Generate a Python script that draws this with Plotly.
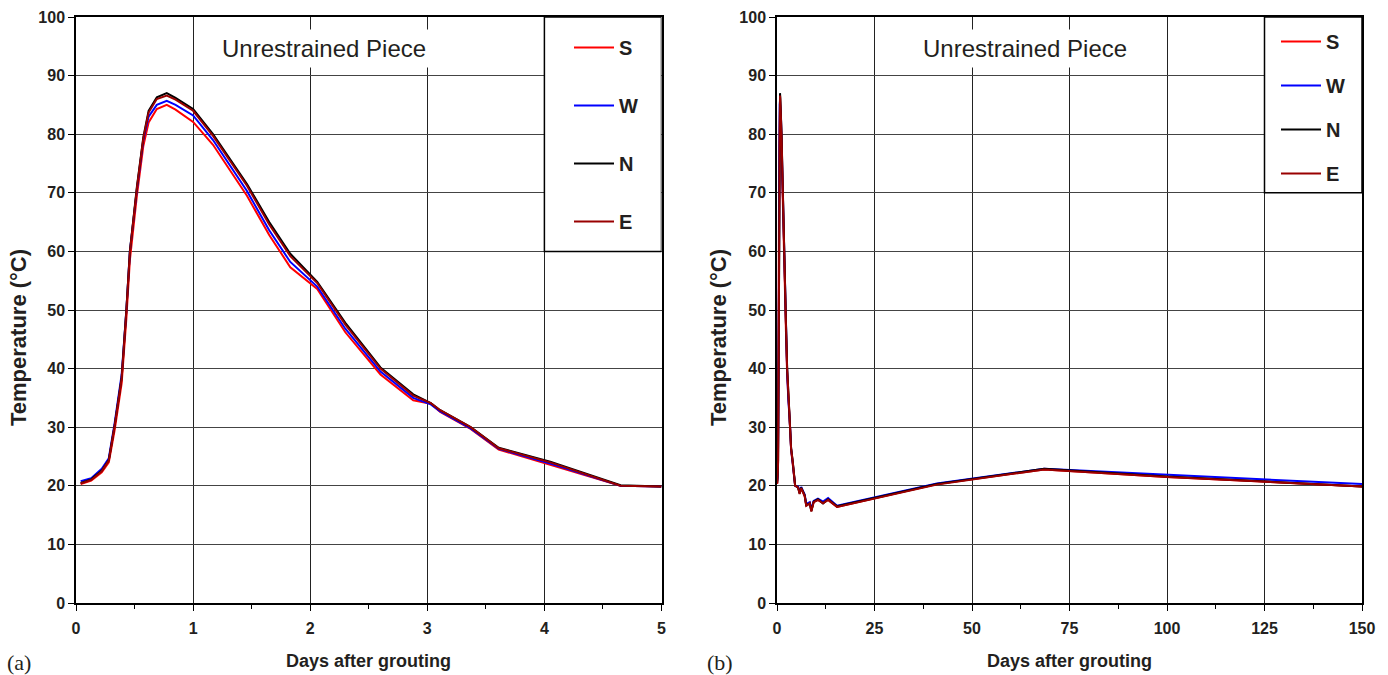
import plotly.graph_objects as go

# ---------------- data ----------------
days_a = [0.04, 0.13, 0.22, 0.28, 0.33, 0.39, 0.43, 0.46, 0.52, 0.575, 0.62, 0.69, 0.775, 0.85, 1.0,
          1.17, 1.46, 1.65, 1.83, 2.06, 2.3, 2.6, 2.88, 3.03, 3.11, 3.37, 3.61, 4.05, 4.65, 5.0]
S_a = [20.3, 20.9, 22.3, 24.0, 29.5, 37.5, 48.5, 58.5, 69.5, 78.0, 82.0, 84.3, 85.0, 84.2, 82.1,
       78.2, 69.5, 62.8, 57.3, 53.6, 46.2, 39.0, 34.6, 34.0, 32.6, 29.7, 26.2, 23.6, 20.0, 19.9]
W_a = [20.8, 21.3, 22.9, 24.7, 30.7, 39.0, 50.0, 60.0, 70.5, 79.0, 83.0, 85.0, 85.7, 85.0, 83.2,
       79.0, 70.3, 63.6, 58.2, 54.0, 46.8, 39.5, 35.0, 33.9, 32.7, 29.8, 26.3, 23.8, 20.0, 19.9]
N_a = [20.5, 21.1, 22.6, 24.4, 30.3, 38.5, 50.0, 60.0, 71.0, 79.5, 84.0, 86.3, 87.0, 86.2, 84.3,
       80.0, 71.5, 65.0, 59.6, 54.8, 47.8, 40.2, 35.6, 34.1, 32.9, 30.0, 26.5, 24.1, 20.1, 19.9]
E_a = [20.4, 21.0, 22.5, 24.3, 30.2, 38.3, 49.8, 59.8, 70.8, 79.3, 83.7, 86.0, 86.6, 85.9, 84.0,
       79.7, 71.2, 64.6, 59.2, 54.6, 47.5, 40.0, 35.4, 34.1, 32.9, 30.0, 26.4, 24.0, 20.0, 19.9]

days_b = [5.4, 5.8, 6.2, 7.1, 7.5, 8.4, 8.8, 9.4, 10.5, 11.8, 13.1, 15.4, 41.0, 68.5, 100.0, 150.0]
S_b = [19.8, 18.9, 19.6, 18.2, 16.6, 17.1, 15.8, 17.2, 17.6, 17.1, 17.6, 16.4, 20.3, 22.8, 21.5, 19.9]
W_b = [19.9, 18.8, 19.8, 18.5, 16.9, 17.2, 16.0, 17.4, 17.8, 17.3, 17.9, 16.6, 20.4, 22.9, 21.9, 20.3]
N_b = [19.7, 18.7, 19.7, 18.4, 16.7, 17.0, 15.7, 17.3, 17.7, 17.0, 17.7, 16.5, 20.3, 22.9, 21.6, 19.9]
E_b = [19.7, 18.6, 19.6, 18.3, 16.6, 17.0, 15.6, 17.2, 17.6, 17.0, 17.6, 16.4, 20.2, 22.8, 21.5, 19.9]

series_names = ["S", "W", "N", "E"]
series_colors = ["#FF0000", "#0000FF", "#000000", "#990000"]
left_vals = [S_a, W_a, N_a, E_a]
right_vals = [S_b, W_b, N_b, E_b]

title_text = "Unrestrained Piece"
x_title = "Days after grouting"
y_title = "Temperature (°C)"

# ---------------- figure ----------------
W, H = 1388, 675
FONT = "Liberation Sans, Arial, sans-serif"
TXT = "#231F20"

def px_x(p):
    return p / W

def px_y(p):
    return 1 - p / H

fig = go.Figure()
for name, col, ya, yb in zip(series_names, series_colors, left_vals, right_vals):
    fig.add_trace(go.Scatter(x=days_a, y=ya, mode="lines", name=name,
                             line=dict(color=col, width=2), xaxis="x", yaxis="y",
                             legend="legend", legendgroup=name + "a"))
    fig.add_trace(go.Scatter(x=days_a + days_b, y=ya + yb, mode="lines", name=name,
                             line=dict(color=col, width=2), xaxis="x2", yaxis="y2",
                             legend="legend2", legendgroup=name + "b"))

y_dom = [px_y(603), px_y(17)]
tickfont = dict(family=FONT, size=16, color=TXT, weight="bold")

def xax(domain, rng, dtick, minor, anchor):
    return dict(domain=domain, range=rng, dtick=dtick, tick0=0, anchor=anchor,
                showgrid=True, gridcolor="#222", gridwidth=1, zeroline=False,
                showline=True, linecolor="black", linewidth=1.5, mirror=True,
                ticks="outside", ticklen=6, tickcolor="black", tickwidth=1,
                ticklabelstandoff=4,
                minor=dict(dtick=minor, tick0=0, ticks="outside", ticklen=4,
                           tickcolor="black", showgrid=False),
                tickfont=tickfont, fixedrange=True, automargin=False)

def yax(anchor):
    return dict(domain=y_dom, range=[0, 100], dtick=10, tick0=0, anchor=anchor,
                showgrid=True, gridcolor="#444", gridwidth=1, zeroline=False,
                showline=True, linecolor="black", linewidth=1.5, mirror=True,
                ticks="outside", ticklen=6, tickcolor="black", tickwidth=1,
                tickfont=tickfont, fixedrange=True, automargin=False)

legend_common = dict(xanchor="left", yanchor="top", bgcolor="rgba(0,0,0,0)",
                     borderwidth=0, itemwidth=40,
                     font=dict(family=FONT, size=20, color=TXT, weight="bold"))

fig.update_layout(
    width=W, height=H,
    margin=dict(l=0, r=0, t=0, b=0),
    paper_bgcolor="white", plot_bgcolor="white",
    xaxis=xax([px_x(76), px_x(661.5)], [0, 5], 1, 0.5, "y"),
    yaxis=yax("x"),
    xaxis2=xax([px_x(777), px_x(1362)], [0, 150], 25, 12.5, "y2"),
    yaxis2=yax("x2"),
    legend=dict(x=px_x(569), y=px_y(28), tracegroupgap=29, **legend_common),
    legend2=dict(x=px_x(1276), y=px_y(22), tracegroupgap=15, **legend_common),
    showlegend=True,
)

# legend boxes (white, framed) in data coordinates
fig.add_shape(type="rect", xref="x", yref="y", x0=4, x1=5, y0=60, y1=100,
              fillcolor="white", line=dict(color="black", width=1.5), layer="between")
fig.add_shape(type="rect", xref="x2", yref="y2", x0=125, x1=150, y0=70, y1=100,
              fillcolor="white", line=dict(color="black", width=1.5), layer="between")

annos = []
for cx in (324, 1025):
    annos.append(dict(text=title_text, x=px_x(cx), y=px_y(49), xref="paper", yref="paper",
                      showarrow=False, xanchor="center", yanchor="middle",
                      font=dict(family=FONT, size=24, color=TXT),
                      bgcolor="white", borderpad=5))
for cx in (368.5, 1069.5):
    annos.append(dict(text=x_title, x=px_x(cx), y=px_y(661), xref="paper", yref="paper",
                      showarrow=False, xanchor="center", yanchor="middle",
                      font=dict(family=FONT, size=18, color=TXT, weight="bold")))
for cx in (18, 718):
    annos.append(dict(text=y_title, x=px_x(cx), y=px_y(338), xref="paper", yref="paper",
                      showarrow=False, xanchor="center", yanchor="middle", textangle=-90,
                      font=dict(family=FONT, size=22, color=TXT, weight="bold")))
for lbl, lx in (("(a)", 5), ("(b)", 705)):
    annos.append(dict(text=lbl, x=px_x(lx), y=px_y(662), xref="paper", yref="paper",
                      showarrow=False, xanchor="left", yanchor="middle",
                      font=dict(family="Liberation Serif, Times New Roman, serif", size=22, color=TXT)))
fig.update_layout(annotations=annos)

fig.write_html("out.html",
               config={"displayModeBar": False, "staticPlot": False},
               post_script="document.body.style.margin='0';document.body.style.overflow='hidden';")
